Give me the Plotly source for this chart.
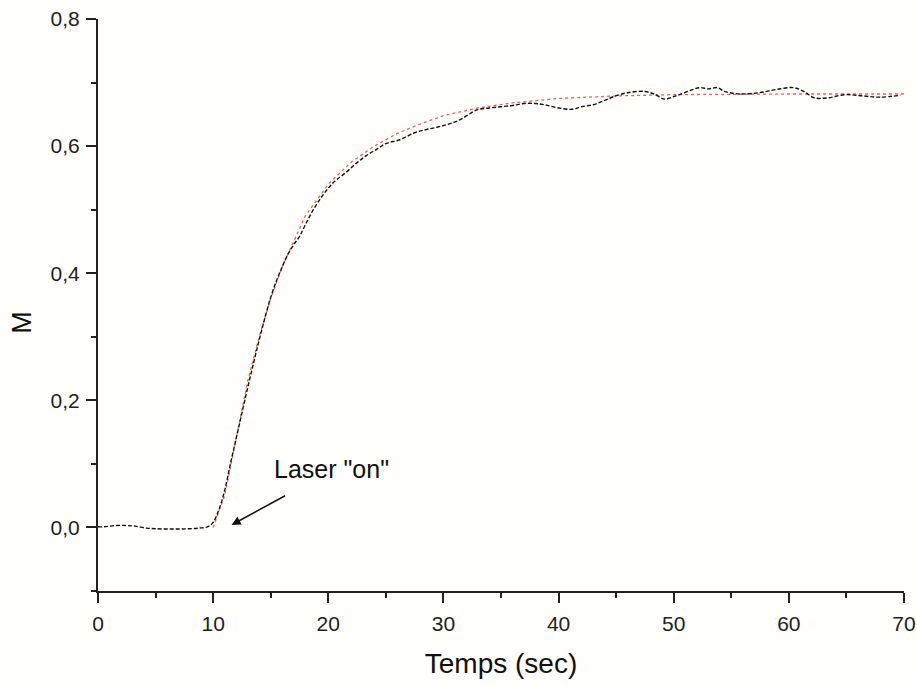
import plotly.graph_objects as go

time_s = [0.0, 0.5, 1.5, 2.5, 3.2, 4.2, 5.0, 6.0, 7.0, 8.0, 8.8, 9.5, 10.0, 10.5,
          11.0, 11.5, 12.0, 12.5, 13.0, 13.5, 14.0, 14.5, 15.0, 15.5, 16.0, 16.5,
          17.0, 17.5, 18.0, 18.7, 19.5, 20.4, 21.5, 22.5, 23.3, 24.2, 25.0, 26.2,
          27.5, 28.5, 29.5, 30.5, 31.5, 32.9, 34.0, 35.0, 36.0, 37.0, 38.0, 38.8,
          40.0, 41.2, 42.0, 43.0, 44.0, 44.8, 46.0, 47.5, 48.4, 49.2, 50.0, 50.5,
          51.5, 52.3, 53.0, 53.8, 54.4, 55.2, 55.9, 57.4, 58.9, 60.4, 61.3, 62.2,
          63.4, 64.9, 66.4, 67.9, 69.7]
m_signal = [0.001, 0.001, 0.003, 0.003, 0.002, -0.001, -0.002, -0.0025, -0.0025,
            -0.002, -0.001, 0.001, 0.008, 0.028, 0.058, 0.100, 0.140, 0.180, 0.220,
            0.258, 0.295, 0.330, 0.362, 0.388, 0.410, 0.430, 0.445, 0.458, 0.476,
            0.500, 0.522, 0.542, 0.558, 0.574, 0.585, 0.595, 0.604, 0.610, 0.621,
            0.626, 0.630, 0.635, 0.642, 0.657, 0.660, 0.662, 0.664, 0.667, 0.667,
            0.665, 0.660, 0.658, 0.662, 0.665, 0.672, 0.678, 0.684, 0.686, 0.681,
            0.674, 0.678, 0.681, 0.688, 0.692, 0.690, 0.692, 0.686, 0.683, 0.682,
            0.684, 0.689, 0.692, 0.686, 0.676, 0.676, 0.681, 0.679, 0.677, 0.680]

fit_time = [10, 11, 12, 13, 14, 15, 16, 18, 20, 22, 24, 26, 28, 30, 33, 36, 40,
            45, 50, 55, 60, 65, 70]
fit_m = [0.0, 0.05, 0.14, 0.23, 0.30, 0.36, 0.41, 0.49, 0.54, 0.575, 0.60, 0.62,
         0.635, 0.648, 0.66, 0.668, 0.675, 0.679, 0.681, 0.682, 0.682, 0.682, 0.682]

y_ticks = [0.0, 0.2, 0.4, 0.6, 0.8]
x_ticks = [0, 10, 20, 30, 40, 50, 60, 70]

AXIS_COLOR = "#222222"
BG = "#fffefa"
FONT = "Liberation Sans, Arial, sans-serif"

fig = go.Figure()

fig.add_trace(go.Scatter(
    x=fit_time, y=fit_m, mode="lines",
    line=dict(color="rgba(220, 60, 50, 0.8)", width=1.3, dash="dot"),
    showlegend=False, hoverinfo="skip"
))

fig.add_trace(go.Scatter(
    x=time_s, y=m_signal, mode="lines",
    line=dict(color="#111111", width=1.4, dash="4px,2px", shape="spline"),
    showlegend=False
))

# Arrow pointing at the laser switch-on moment
fig.add_annotation(
    x=11.6, y=0.004, xref="x", yref="y",
    ax=55, ay=-30, text="",
    showarrow=True, arrowhead=2, arrowsize=1.2, arrowwidth=1.5,
    arrowcolor="#111111"
)
fig.add_annotation(
    x=20.3, y=0.092, xref="x", yref="y",
    text='Laser "on"', showarrow=False,
    font=dict(family=FONT, size=25, color="#111111")
)

# y-axis label sits a little below the axis middle in the original
fig.add_annotation(
    x=0, y=0.322, xref="paper", yref="y",
    text="M", textangle=-90, showarrow=False,
    xanchor="center", yanchor="middle", xshift=-76,
    font=dict(family=FONT, size=27, color="#111111")
)

fig.update_layout(
    width=917, height=686,
    margin=dict(l=98, r=13, t=19, b=95),
    plot_bgcolor=BG, paper_bgcolor=BG,
    separators=",.",
    font=dict(family=FONT, size=21, color="#222222"),
    showlegend=False
)

fig.update_xaxes(
    range=[0, 70], tickvals=x_ticks, showgrid=False, zeroline=False,
    showline=True, linecolor=AXIS_COLOR, linewidth=2,
    ticks="outside", ticklen=10, tickwidth=2, tickcolor=AXIS_COLOR,
    minor=dict(dtick=5, ticks="outside", ticklen=5, tickwidth=2, tickcolor=AXIS_COLOR),
    tickfont=dict(size=21), ticklabelstandoff=3,
    title=dict(text="Temps (sec)", font=dict(size=28, color="#111111"), standoff=19),
    automargin=False
)

fig.update_yaxes(
    range=[-0.1, 0.8], tickvals=y_ticks, tickformat=".1f",
    showgrid=False, zeroline=False,
    showline=True, linecolor=AXIS_COLOR, linewidth=2,
    ticks="outside", ticklen=10, tickwidth=2, tickcolor=AXIS_COLOR,
    minor=dict(dtick=0.1, tick0=0, ticks="outside", ticklen=5, tickwidth=2,
               tickcolor=AXIS_COLOR),
    tickfont=dict(size=21), ticklabelstandoff=2,
    automargin=False
)

# drop the page's default body margin so the figure fills the window exactly
fig.write_html("out.html", config={"displayModeBar": False},
               post_script="document.body.style.margin = '0';")
